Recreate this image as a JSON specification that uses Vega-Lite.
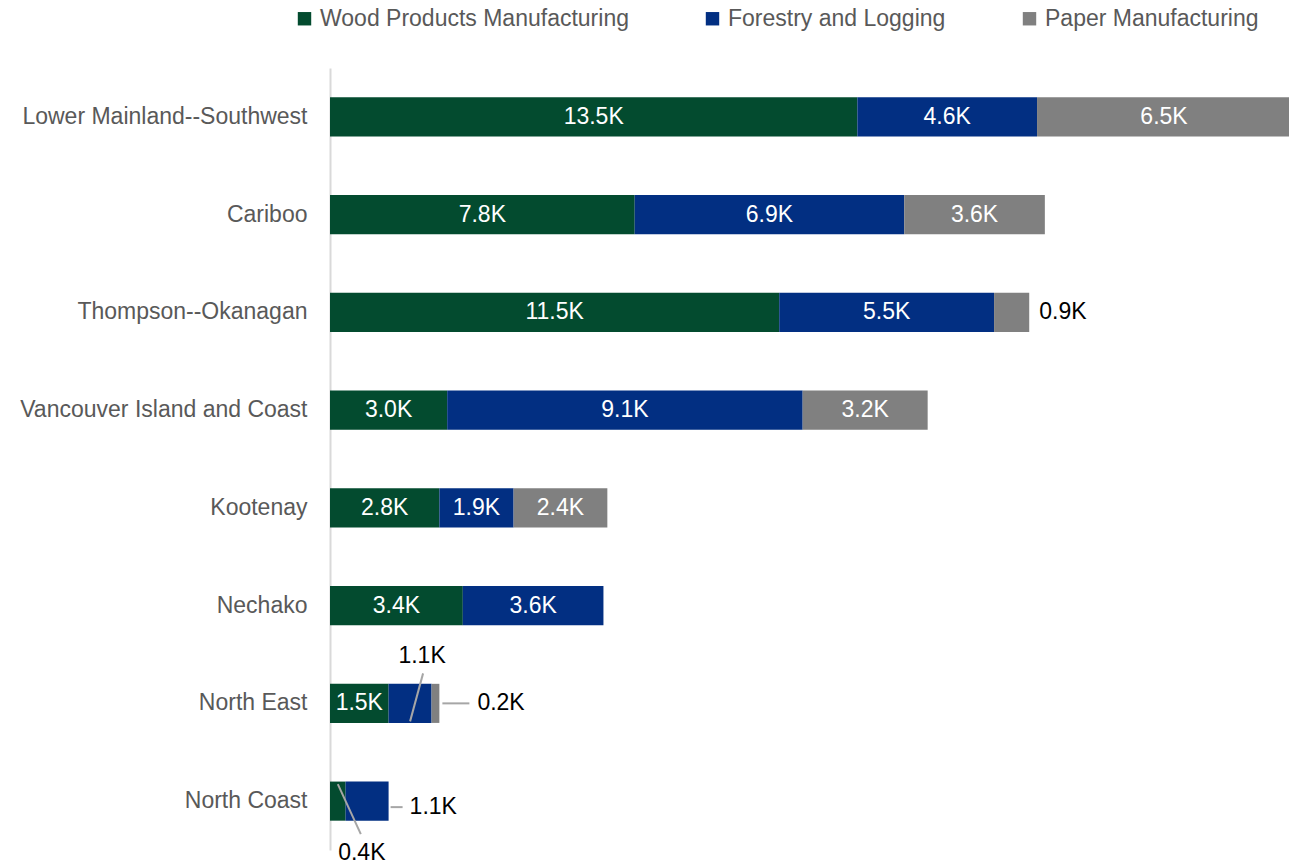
{
  "$schema": "https://vega.github.io/schema/vega-lite/v6.json",
  "autosize": {"type": "none"},
  "width": 959,
  "height": 782,
  "padding": {"left": 330, "top": 68, "right": 0, "bottom": 15},
  "background": "white",
  "config": {
    "view": {"stroke": null},
    "font": "Liberation Sans",
    "text": {"font": "Liberation Sans"}
  },
  "data": {
    "values": [
      {"region": "Lower Mainland--Southwest", "industry": "Wood Products Manufacturing", "value": 13.5},
      {"region": "Lower Mainland--Southwest", "industry": "Forestry and Logging", "value": 4.6},
      {"region": "Lower Mainland--Southwest", "industry": "Paper Manufacturing", "value": 6.5},
      {"region": "Cariboo", "industry": "Wood Products Manufacturing", "value": 7.8},
      {"region": "Cariboo", "industry": "Forestry and Logging", "value": 6.9},
      {"region": "Cariboo", "industry": "Paper Manufacturing", "value": 3.6},
      {"region": "Thompson--Okanagan", "industry": "Wood Products Manufacturing", "value": 11.5},
      {"region": "Thompson--Okanagan", "industry": "Forestry and Logging", "value": 5.5},
      {"region": "Thompson--Okanagan", "industry": "Paper Manufacturing", "value": 0.9},
      {"region": "Vancouver Island and Coast ", "industry": "Wood Products Manufacturing", "value": 3.0},
      {"region": "Vancouver Island and Coast ", "industry": "Forestry and Logging", "value": 9.1},
      {"region": "Vancouver Island and Coast ", "industry": "Paper Manufacturing", "value": 3.2},
      {"region": "Kootenay", "industry": "Wood Products Manufacturing", "value": 2.8},
      {"region": "Kootenay", "industry": "Forestry and Logging", "value": 1.9},
      {"region": "Kootenay", "industry": "Paper Manufacturing", "value": 2.4},
      {"region": "Nechako", "industry": "Wood Products Manufacturing", "value": 3.4},
      {"region": "Nechako", "industry": "Forestry and Logging", "value": 3.6},
      {"region": "North East", "industry": "Wood Products Manufacturing", "value": 1.5},
      {"region": "North East", "industry": "Forestry and Logging", "value": 1.1},
      {"region": "North East", "industry": "Paper Manufacturing", "value": 0.2},
      {"region": "North Coast", "industry": "Wood Products Manufacturing", "value": 0.4},
      {"region": "North Coast", "industry": "Forestry and Logging", "value": 1.1}
    ]
  },
  "transform": [
    {"calculate": "indexof(['Wood Products Manufacturing','Forestry and Logging','Paper Manufacturing'], datum.industry)", "as": "ord"},
    {"stack": "value", "groupby": ["region"], "sort": [{"field": "ord", "order": "ascending"}], "as": ["x0", "x1"]},
    {"calculate": "(datum.x0 + datum.x1) / 2", "as": "mid"},
    {"calculate": "format(datum.value, '.1f') + 'K'", "as": "label"}
  ],
  "encoding": {
    "y": {
      "field": "region",
      "type": "nominal",
      "sort": ["Lower Mainland--Southwest", "Cariboo", "Thompson--Okanagan", "Vancouver Island and Coast ", "Kootenay", "Nechako", "North East", "North Coast"],
      "scale": {"paddingInner": 0.6, "paddingOuter": 0.3},
      "axis": {
        "title": null,
        "ticks": false,
        "domainColor": "#d9d9d9",
        "domainWidth": 2,
        "labelFontSize": 23,
        "labelColor": "#595959",
        "labelPadding": 23,
        "labelLimit": 400,
        "labelFont": "Liberation Sans"
      }
    }
  },
  "layer": [
    {
      "mark": {"type": "bar", "cornerRadius": 0},
      "encoding": {
        "x": {"field": "x0", "type": "quantitative", "scale": {"domain": [0, 24.55], "nice": false, "zero": true}, "axis": null},
        "x2": {"field": "x1"},
        "color": {
          "field": "industry",
          "type": "nominal",
          "scale": {"domain": ["Wood Products Manufacturing", "Forestry and Logging", "Paper Manufacturing"], "range": ["#034B2F", "#022F82", "#808080"]},
          "legend": {
            "title": null,
            "orient": "none",
            "legendX": -37,
            "legendY": -61,
            "direction": "horizontal",
            "columns": 3,
            "columnPadding": 72,
            "symbolType": "square",
            "symbolSize": 180,
            "symbolStrokeWidth": 0,
            "labelFontSize": 23,
            "labelColor": "#595959",
            "labelOffset": 4,
            "labelLimit": 500,
            "labelFont": "Liberation Sans"
          }
        }
      }
    },
    {
      "transform": [{"filter": "datum.value >= 1.5"}],
      "mark": {"type": "text", "fontSize": 23, "color": "white", "align": "center", "baseline": "middle"},
      "encoding": {
        "x": {"field": "mid", "type": "quantitative"},
        "text": {"field": "label"}
      }
    },
    {
      "transform": [{"filter": "datum.region == 'Thompson--Okanagan' && datum.industry == 'Paper Manufacturing'"}],
      "mark": {"type": "text", "fontSize": 23, "color": "#000000", "align": "left", "baseline": "middle", "dx": 10},
      "encoding": {"x": {"field": "x1", "type": "quantitative"}, "text": {"field": "label"}}
    },
    {
      "transform": [{"filter": "datum.region == 'North East' && datum.industry == 'Paper Manufacturing'"}],
      "mark": {"type": "rule", "color": "#a6a6a6", "strokeWidth": 2, "xOffset": 3, "x2Offset": 30},
      "encoding": {"x": {"field": "x1", "type": "quantitative"}, "x2": {"field": "x1"}}
    },
    {
      "transform": [{"filter": "datum.region == 'North East' && datum.industry == 'Paper Manufacturing'"}],
      "mark": {"type": "text", "fontSize": 23, "color": "#000000", "align": "left", "baseline": "middle", "dx": 38},
      "encoding": {"x": {"field": "x1", "type": "quantitative"}, "text": {"field": "label"}}
    },
    {
      "transform": [{"filter": "datum.region == 'North East' && datum.industry == 'Forestry and Logging'"}],
      "mark": {"type": "rule", "color": "#a6a6a6", "strokeWidth": 2, "yOffset": 18, "y2Offset": -30, "x2Offset": 13},
      "encoding": {"x": {"field": "mid", "type": "quantitative"}, "x2": {"field": "mid"}, "y2": {"field": "region"}}
    },
    {
      "transform": [{"filter": "datum.region == 'North East' && datum.industry == 'Forestry and Logging'"}],
      "mark": {"type": "text", "fontSize": 23, "color": "#000000", "align": "center", "baseline": "middle", "dx": 12, "dy": -47},
      "encoding": {"x": {"field": "mid", "type": "quantitative"}, "text": {"field": "label"}}
    },
    {
      "transform": [{"filter": "datum.region == 'North Coast' && datum.industry == 'Wood Products Manufacturing'"}],
      "mark": {"type": "rule", "color": "#a6a6a6", "strokeWidth": 2, "yOffset": -17, "y2Offset": 33, "x2Offset": 23},
      "encoding": {"x": {"field": "mid", "type": "quantitative"}, "x2": {"field": "mid"}, "y2": {"field": "region"}}
    },
    {
      "transform": [{"filter": "datum.region == 'North Coast' && datum.industry == 'Wood Products Manufacturing'"}],
      "mark": {"type": "text", "fontSize": 23, "color": "#000000", "align": "center", "baseline": "middle", "dx": 24, "dy": 52},
      "encoding": {"x": {"field": "mid", "type": "quantitative"}, "text": {"field": "label"}}
    },
    {
      "transform": [{"filter": "datum.region == 'North Coast' && datum.industry == 'Forestry and Logging'"}],
      "mark": {"type": "rule", "color": "#a6a6a6", "strokeWidth": 2, "yOffset": 6, "y2Offset": 6, "xOffset": 2, "x2Offset": 14},
      "encoding": {"x": {"field": "x1", "type": "quantitative"}, "x2": {"field": "x1"}, "y2": {"field": "region"}}
    },
    {
      "transform": [{"filter": "datum.region == 'North Coast' && datum.industry == 'Forestry and Logging'"}],
      "mark": {"type": "text", "fontSize": 23, "color": "#000000", "align": "left", "baseline": "middle", "dx": 21, "dy": 6},
      "encoding": {"x": {"field": "x1", "type": "quantitative"}, "text": {"field": "label"}}
    }
  ]
}
